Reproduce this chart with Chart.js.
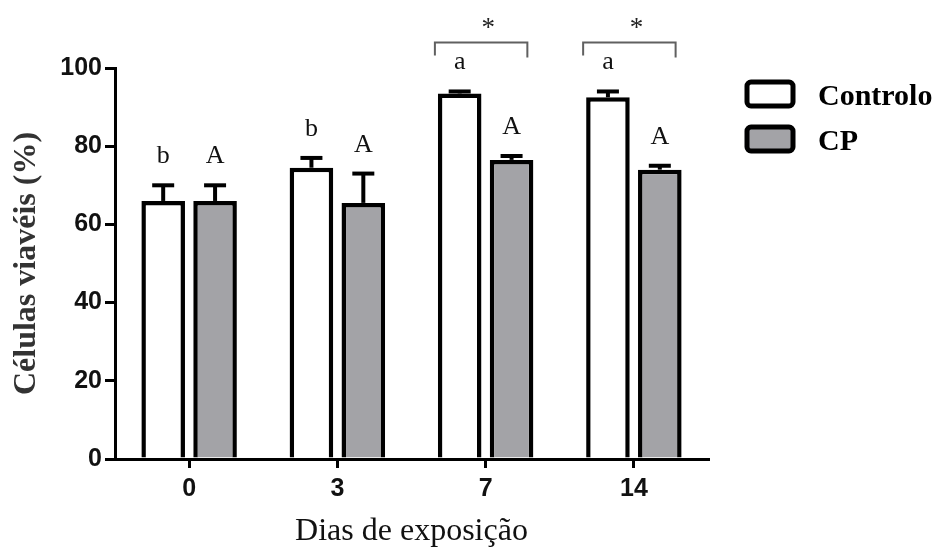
<!DOCTYPE html>
<html><head><meta charset="utf-8">
<script src="https://cdn.jsdelivr.net/npm/chart.js@4"></script>
<style>html,body{margin:0;padding:0;background:#fff;}</style>
</head><body>
<canvas id="c" width="941" height="553" style="display:block;width:941px;height:553px"></canvas>
<script>
const categories = ['0', '3', '7', '14'];
const seriesNames = ['Controlo', 'CP'];
const controloValues = [66, 74.5, 93.5, 92.5];
const controloErrors = [4, 2.5, 0.5, 1.5];
const cpValues = [66, 65.5, 76.5, 74];
const cpErrors = [4, 7.5, 1, 1];
const controloLetters = ['b', 'b', 'a', 'a'];
const cpLetters = ['A', 'A', 'A', 'A'];
const significantDays = ['7', '14'];
const yTickValues = [0, 20, 40, 60, 80, 100];

const errorsByDataset = [controloErrors, cpErrors];
const lettersByDataset = [controloLetters, cpLetters];

const errorBarPlugin = {
  id: 'errorBars',
  afterDatasetsDraw(chart) {
    const ctx = chart.ctx;
    const ys = chart.scales.y;
    ctx.save();
    ctx.strokeStyle = '#000';
    ctx.lineWidth = 4;
    chart.data.datasets.forEach((ds, i) => {
      const meta = chart.getDatasetMeta(i);
      meta.data.forEach((bar, j) => {
        const v = ds.data[j];
        const e = errorsByDataset[i][j];
        const yTop = ys.getPixelForValue(v);
        const yCap = ys.getPixelForValue(v + e);
        ctx.beginPath();
        ctx.moveTo(bar.x, yTop);
        ctx.lineTo(bar.x, yCap);
        ctx.stroke();
        ctx.beginPath();
        ctx.moveTo(bar.x - 11, yCap);
        ctx.lineTo(bar.x + 11, yCap);
        ctx.stroke();
      });
    });
    ctx.restore();
  }
};

const annotationPlugin = {
  id: 'annotations',
  afterDraw(chart) {
    const ctx = chart.ctx;
    const ys = chart.scales.y;
    ctx.save();
    // letters
    ctx.fillStyle = '#111';
    ctx.font = '26px "Liberation Serif", "Times New Roman", serif';
    ctx.textAlign = 'center';
    ctx.textBaseline = 'alphabetic';
    chart.data.datasets.forEach((ds, i) => {
      const meta = chart.getDatasetMeta(i);
      meta.data.forEach((bar, j) => {
        const top = ys.getPixelForValue(ds.data[j] + errorsByDataset[i][j]);
        ctx.fillText(lettersByDataset[i][j], bar.x, top - 22);
      });
    });
    // significance brackets
    const m0 = chart.getDatasetMeta(0), m1 = chart.getDatasetMeta(1);
    significantDays.forEach(day => {
      const j = categories.indexOf(day);
      const b0 = m0.data[j], b1 = m1.data[j];
      const x1 = b0.x - b0.width / 2 - 3;
      const x2 = b1.x + b1.width / 2 - 6;
      const yb = ys.getPixelForValue(106.5);
      ctx.strokeStyle = '#606060';
      ctx.lineWidth = 2;
      ctx.beginPath();
      ctx.moveTo(x1, yb + 13);
      ctx.lineTo(x1, yb);
      ctx.lineTo(x2, yb);
      ctx.lineTo(x2, yb + 15);
      ctx.stroke();
      ctx.fillStyle = '#222';
      ctx.font = '27px "Liberation Serif", "Times New Roman", serif';
      ctx.fillText('*', (x1 + x2) / 2 + 7, yb - 7);
    });
    // legend
    const fills = chart.data.datasets.map(d => d.backgroundColor);
    ctx.lineWidth = 5;
    ctx.strokeStyle = '#000';
    ctx.font = 'bold 30px "Liberation Serif", "Times New Roman", serif';
    ctx.textAlign = 'left';
    chart.data.datasets.forEach((ds, i) => {
      const by = 82 + i * 45;
      ctx.beginPath();
      ctx.roundRect(747, by, 46, 24, 4);
      ctx.fillStyle = fills[i];
      ctx.fill();
      ctx.stroke();
      ctx.fillStyle = '#000';
      ctx.fillText(ds.label, 818, by + 23);
    });
    ctx.restore();
  }
};

new Chart(document.getElementById('c'), {
  type: 'bar',
  data: {
    labels: categories,
    datasets: [
      { label: seriesNames[0], data: controloValues, backgroundColor: '#ffffff', borderColor: '#000', borderWidth: 4.5 },
      { label: seriesNames[1], data: cpValues, backgroundColor: '#a3a3a7', borderColor: '#000', borderWidth: 4.5 }
    ]
  },
  options: {
    responsive: false,
    animation: false,
    devicePixelRatio: 1,
    layout: { padding: { left: 0, top: 68, right: 233, bottom: 0 } },
    datasets: { bar: { categoryPercentage: 0.70, barPercentage: 0.84 } },
    plugins: { legend: { display: false }, tooltip: { enabled: false } },
    scales: {
      x: {
        type: 'category',
        offset: true,
        grid: { display: true, drawOnChartArea: false, offset: false, drawTicks: true, tickLength: 9, color: '#000', lineWidth: 3 },
        border: { display: true, color: '#000', width: 3 },
        ticks: { color: '#111', padding: 6, font: { family: '"Liberation Sans", Arial, sans-serif', size: 25, weight: 'bold' } },
        title: { display: true, text: 'Dias de exposição', color: '#111', padding: { top: 0, bottom: 2 }, font: { family: '"Liberation Serif", "Times New Roman", serif', size: 32 } },
        afterFit(s) { s.height = 94; }
      },
      y: {
        min: 0, max: 100,
        afterBuildTicks(s) { s.ticks = yTickValues.map(v => ({ value: v })); },
        grid: { display: true, drawOnChartArea: false, drawTicks: true, tickLength: 10, color: '#000', lineWidth: 3 },
        border: { display: true, color: '#000', width: 3 },
        ticks: { color: '#111', padding: 3, font: { family: '"Liberation Sans", Arial, sans-serif', size: 25, weight: 'bold' } },
        title: { display: true, text: 'Células viavéis (%)', color: '#333', padding: { top: 8, bottom: 0 }, font: { family: '"Liberation Serif", "Times New Roman", serif', size: 32, weight: 'bold' } },
        afterFit(s) { s.width = 115; }
      }
    }
  },
  plugins: [errorBarPlugin, annotationPlugin]
});
</script>
</body></html>
